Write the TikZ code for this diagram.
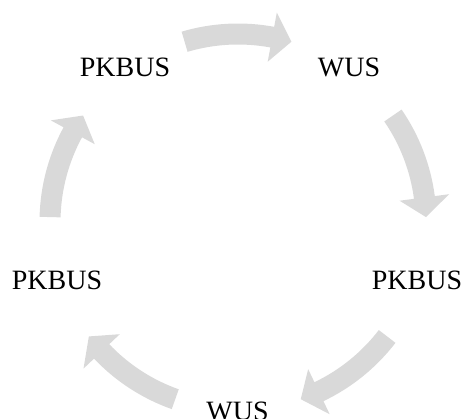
\documentclass[tikz,border=0pt]{standalone}
\usepackage{fontspec}
\setmainfont{Liberation Serif}
\definecolor{arrowgray}{RGB}{217,217,217}
\begin{document}
\begin{tikzpicture}[x=1pt,y=1pt,
  lbl/.style={inner sep=0pt, font=\fontsize{28}{30}\selectfont},
  cycarrow/.style={fill=arrowgray, draw=none}]
\useasboundingbox (-238,-197) rectangle (227,222);
\node[lbl] (n1) at (-113,155) {PKBUS};
\node[lbl] (n2) at (111,155) {WUS};
\node[lbl] (n3) at (179,-58) {PKBUS};
\node[lbl] (n4) at (-0.5,-189) {WUS};
\node[lbl] (n5) at (-181,-58) {PKBUS};
\foreach \m in {90,18,-54,-126,-198}{
  \pgfmathsetmacro\aa{\m+16.5}
  \pgfmathsetmacro\ab{\m-16.5}
  \pgfmathsetmacro\ah{\m-10.5}
  \path[cycarrow] (\aa:198.5) arc[start angle=\aa, end angle=\ah, radius=198.5]
    -- (\ah:213) -- (\ab:188) -- (\ah:163) -- (\ah:177.5)
    arc[start angle=\ah, end angle=\aa, radius=177.5] -- cycle;
}
\end{tikzpicture}
\end{document}
